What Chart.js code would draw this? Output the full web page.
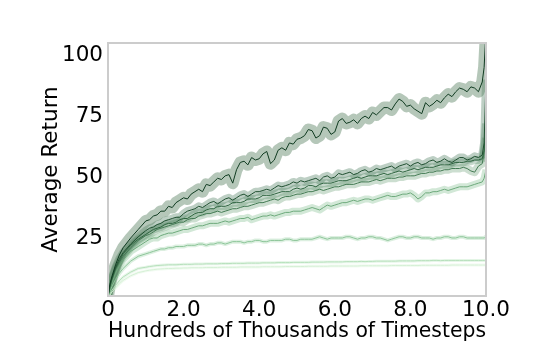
<!DOCTYPE html>
<html>
<head>
<meta charset="utf-8">
<script src="https://cdn.jsdelivr.net/npm/chart.js@4.4.1/dist/chart.umd.min.js"></script>
<style>
  html, body { margin: 0; padding: 0; background: #fff; }
</style>
</head>
<body>
<canvas id="returnChart" width="540" height="360"></canvas>
<script>
// x positions (hundreds of thousands of timesteps)
const timesteps = [0, 0.05, 0.1, 0.2, 0.3, 0.4, 0.6, 0.8,
  1.0, 1.1, 1.2, 1.3, 1.4, 1.5, 1.6, 1.7, 1.8, 1.9,
  2.0, 2.1, 2.2, 2.3, 2.4, 2.5, 2.6, 2.7, 2.8, 2.9,
  3.0, 3.1, 3.2, 3.3, 3.4, 3.5, 3.6, 3.7, 3.8, 3.9,
  4.0, 4.1, 4.2, 4.3, 4.4, 4.5, 4.6, 4.7, 4.8, 4.9,
  5.0, 5.1, 5.2, 5.3, 5.4, 5.5, 5.6, 5.7, 5.8, 5.9,
  6.0, 6.1, 6.2, 6.3, 6.4, 6.5, 6.6, 6.7, 6.8, 6.9,
  7.0, 7.1, 7.2, 7.3, 7.4, 7.5, 7.6, 7.7, 7.8, 7.9,
  8.0, 8.1, 8.2, 8.3, 8.4, 8.5, 8.6, 8.7, 8.8, 8.9,
  9.0, 9.1, 9.2, 9.3, 9.4, 9.5, 9.6, 9.7, 9.8, 9.9,
  9.95, 10];

// average return of each run
const topRun = [1, 6, 9, 14, 18, 21, 25, 28.5,
  32, 32.5, 34, 34.5, 36, 36, 38, 37.5, 39.5, 40.5,
  41.5, 41, 43, 44, 45, 44, 47, 46.5, 48, 49.5,
  49, 50.5, 51, 47.5, 53, 56, 56.5, 55, 58, 57,
  57.5, 59.5, 60.5, 55.5, 57, 61, 62, 61, 64, 63.5,
  65.5, 66, 67, 69.5, 69, 66, 67, 70.5, 70, 67.5,
  68.5, 73, 74, 72, 72.5, 73.5, 72, 74, 75, 74,
  76.5, 75.5, 77, 78.5, 78.5, 77.5, 80, 82, 81, 79,
  79.5, 78, 77, 76, 80.5, 79, 80, 81.5, 80.5, 82.5,
  84, 83, 85, 86.5, 86, 85, 87, 86.5, 85, 89,
  95, 110];
const clusterA = [1, 5.5, 8.5, 13, 16.5, 19, 22.5, 25.5,
  28, 29, 29.5, 30.5, 31, 32, 32.5, 33, 33.5, 33.5,
  35, 36, 36.5, 37, 38, 37.5, 38.5, 39.5, 40, 39,
  40, 41, 41.5, 40.5, 41.5, 42.5, 43, 42, 43, 44,
  44, 44.5, 45, 44.5, 45.5, 46.5, 46, 46.5, 47, 48,
  47.5, 48.5, 48, 48.5, 49, 49.5, 48.5, 50, 50.5, 49.5,
  50, 51.5, 51, 51.5, 52, 51, 51.5, 52.5, 53, 52,
  52.5, 53.5, 53, 53.5, 54, 54.5, 53.5, 54.5, 55, 55.5,
  54.5, 55.5, 56, 55, 55.5, 56.5, 57, 56, 56.5, 57.5,
  56.5, 56, 57, 58, 58, 57, 57.5, 58.5, 58, 59,
  64, 90];
const clusterB = [1, 5, 8, 12.5, 15.5, 18.5, 22, 24.5,
  26.5, 27.5, 28.5, 29, 29.5, 30.5, 31, 31, 31.5, 32.5,
  33, 33, 34, 35, 35.5, 35.5, 36.5, 37, 37, 38,
  38, 38, 38.5, 39.5, 39.5, 39.5, 40, 41, 41, 41,
  41.5, 42.5, 42.5, 42.5, 43, 43.5, 44, 44, 44, 45,
  45.5, 45, 45.5, 46.5, 46.5, 46, 47, 47.5, 47.5, 47.5,
  48, 48.5, 48.5, 48.5, 49, 49.5, 50, 49.5, 50, 50.5,
  50.5, 50.5, 51, 51.5, 51, 51.5, 52, 52.5, 52, 52.5,
  53, 53.5, 53, 53.5, 54, 54, 54, 54.5, 55, 55,
  55, 55.5, 56, 56, 56, 56.5, 56.5, 57, 57, 57.5,
  61, 72];
const clusterC = [0.9, 4.5, 7.5, 12, 15, 17.5, 21, 24,
  26, 26.5, 27.5, 28.5, 29, 29.5, 30, 30.5, 31, 31.5,
  31.5, 32.5, 33, 33, 34, 34.5, 35, 35, 35.5, 36,
  35.5, 36, 36.5, 37, 37, 37.5, 38, 38, 38.5, 39,
  39.5, 39.5, 40, 40.5, 41, 40.5, 41.5, 42, 42, 42.5,
  43, 43, 43.5, 44, 44, 44.5, 45, 44.5, 45, 45.5,
  46, 46, 46.5, 47, 47, 47, 47.5, 48, 48, 48,
  48.5, 49, 48.5, 49, 49.5, 49.5, 49.5, 50, 50, 50.5,
  50.5, 50.5, 51, 51.5, 51.5, 52, 52, 52.5, 52.5, 53,
  53, 53.5, 53.5, 53.5, 54, 53.5, 52.5, 52, 54.5, 55.5,
  60, 66];
const midRun = [0.8, 4, 6.5, 10.5, 13.5, 16, 19.5, 21.5,
  23.5, 24.5, 25, 25, 26, 26.5, 27, 27, 27.5, 28,
  28.5, 28.5, 29, 29.5, 30, 30, 30.5, 31, 31, 31,
  31.5, 32, 31.5, 32, 32.5, 33, 33, 33.5, 32.5, 33,
  33.5, 34, 34, 34.5, 34, 34.5, 35, 35.5, 35.5, 36,
  36, 36, 36.5, 37, 37.5, 37, 36.5, 37.5, 38.5, 38,
  38.5, 39, 39.5, 39.5, 40, 40.5, 40, 40.5, 41, 41,
  40.5, 41, 41.5, 42, 42.5, 42, 42, 42.5, 43, 43,
  43.5, 42.5, 41, 42, 43.5, 43.5, 44, 44, 44.5, 45,
  44.5, 45, 45.5, 46, 46, 46, 46.5, 47, 47.5, 48,
  49.5, 53];
const lowRun = [0.7, 3, 5, 8, 10.5, 12.5, 15.5, 17.5,
  18.5, 19, 19.5, 20, 20.5, 20.5, 21, 21, 21.5, 21.5,
  21.5, 22, 22, 22, 22.5, 22.5, 22, 22.5, 22.5, 23,
  23, 22.5, 23, 23.5, 23.5, 23.5, 23, 23.5, 23.5, 24,
  24, 23.5, 23.5, 24, 24, 24, 24, 24.5, 24.5, 24,
  24, 24.5, 24.5, 24.5, 24.5, 25, 25.5, 25, 24.5, 25,
  25, 25, 25, 25.5, 25.5, 25, 24.5, 25, 25, 25.5,
  25.5, 25, 25, 24.5, 24, 24.5, 25, 25.5, 25.5, 25,
  25, 25.5, 25.5, 25, 25, 25, 24.5, 25, 25, 25.5,
  25.5, 25, 25, 25.5, 25.5, 25, 25, 25, 25, 25,
  25, 25.5];
const lowerRun = [0.5, 2, 3.5, 5.5, 7.5, 9, 11, 12.5,
  13, 13.3, 13.5, 13.7, 13.8, 13.9, 14, 14, 14, 14.1,
  14.2, 14.2, 14.2, 14.3, 14.3, 14.3, 14.4, 14.4, 14.4, 14.4,
  14.5, 14.5, 14.5, 14.6, 14.6, 14.6, 14.6, 14.7, 14.7, 14.7,
  14.7, 14.8, 14.8, 14.8, 14.8, 14.9, 14.9, 14.9, 14.9, 15,
  15, 15, 15, 15, 15.1, 15.1, 15.1, 15.1, 15.2, 15.2,
  15.2, 15.2, 15.2, 15.3, 15.3, 15.3, 15.3, 15.4, 15.3, 15.4,
  15.4, 15.5, 15.5, 15.5, 15.5, 15.5, 15.5, 15.6, 15.6, 15.6,
  15.6, 15.6, 15.7, 15.7, 15.7, 15.7, 15.8, 15.8, 15.7, 15.8,
  15.8, 15.8, 15.8, 15.8, 15.8, 15.8, 15.8, 15.8, 15.8, 15.8,
  15.8, 15.8];
const lowestRun = [0.4, 1.5, 2.8, 4.5, 6.2, 7.6, 9.5, 10.8,
  11.5, 11.8, 12, 12.2, 12.3, 12.4, 12.5, 12.5, 12.6, 12.6,
  12.7, 12.7, 12.8, 12.8, 12.8, 12.8, 12.9, 12.9, 12.9, 12.9,
  13, 13, 13, 13, 13, 13.1, 13.1, 13.1, 13.1, 13.1,
  13.1, 13.2, 13.2, 13.2, 13.2, 13.2, 13.2, 13.3, 13.3, 13.3,
  13.3, 13.3, 13.3, 13.4, 13.4, 13.4, 13.4, 13.4, 13.4, 13.5,
  13.5, 13.5, 13.5, 13.5, 13.5, 13.5, 13.5, 13.6, 13.6, 13.6,
  13.6, 13.6, 13.6, 13.6, 13.6, 13.7, 13.7, 13.7, 13.7, 13.7,
  13.7, 13.7, 13.7, 13.8, 13.8, 13.8, 13.8, 13.8, 13.8, 13.8,
  13.8, 13.9, 13.9, 13.9, 13.9, 13.9, 13.9, 13.9, 13.9, 13.9,
  13.9, 13.9];

const xTicks = [0, 2, 4, 6, 8, 10];
const yTicks = [25, 50, 75, 100];

// line colour, shaded band colour, band width in px
const runs = [
  { values: topRun,    line: '#0f3a20', band: 'rgba(90,130,100,0.45)',  bandWidth: 12 },
  { values: clusterA,  line: '#1f4f30', band: 'rgba(55,110,75,0.33)',   bandWidth: 8 },
  { values: clusterB,  line: '#2f6540', band: 'rgba(65,125,85,0.30)',   bandWidth: 8 },
  { values: clusterC,  line: '#437a53', band: 'rgba(85,145,100,0.30)',  bandWidth: 8 },
  { values: midRun,    line: '#6da97b', band: 'rgba(125,190,140,0.35)', bandWidth: 7 },
  { values: lowRun,    line: '#8cc598', band: 'rgba(155,210,165,0.35)', bandWidth: 4 },
  { values: lowerRun,  line: '#b6e0bb', band: 'rgba(195,232,200,0.40)', bandWidth: 3 },
  { values: lowestRun, line: '#d6f0d6', band: 'rgba(220,244,220,0.40)', bandWidth: 3 }
];

const toPoints = arr => timesteps.map((t, i) => ({ x: t, y: arr[i] }));

const datasets = [];
runs.forEach(r => {
  datasets.push({
    data: toPoints(r.values), borderColor: r.band, borderWidth: r.bandWidth,
    pointRadius: 0, tension: 0, borderJoinStyle: 'round', order: 2, clip: 0
  });
  datasets.push({
    data: toPoints(r.values), borderColor: r.line, borderWidth: 1,
    pointRadius: 0, tension: 0, order: 1, clip: 0
  });
});

// light grey box around the plot
const frame = {
  id: 'frame',
  afterDraw(chart) {
    const a = chart.chartArea, c = chart.ctx;
    c.save();
    c.strokeStyle = '#cccccc';
    c.lineWidth = 2;
    c.strokeRect(a.left, a.top, a.right - a.left, a.bottom - a.top);
    c.restore();
  }
};

const font = { family: 'DejaVu Sans', size: 21.5 };

new Chart(document.getElementById('returnChart'), {
  type: 'line',
  data: { datasets: datasets },
  plugins: [frame],
  options: {
    responsive: false,
    animation: false,
    layout: { padding: { left: 36, right: 54, top: 43, bottom: 16 } },
    plugins: { legend: { display: false }, tooltip: { enabled: false } },
    scales: {
      x: {
        type: 'linear', min: 0, max: 10,
        grid: { display: false, drawTicks: false },
        border: { display: false },
        afterBuildTicks: s => { s.ticks = xTicks.map(v => ({ value: v })); },
        afterFit: s => { s.height = 48; },
        ticks: {
          color: '#000', font: font, padding: 2, maxRotation: 0,
          callback: v => v === 0 ? '0' : v.toFixed(1)
        },
        title: { display: true, text: 'Hundreds of Thousands of Timesteps', color: '#000', font: font, padding: 0 }
      },
      y: {
        min: 1.2, max: 105,
        grid: { display: false, drawTicks: false },
        border: { display: false },
        afterBuildTicks: s => { s.ticks = yTicks.map(v => ({ value: v })); },
        afterFit: s => { s.width = 72; },
        ticks: { color: '#000', font: font, padding: 5 },
        title: { display: true, text: 'Average Return', color: '#000', font: font, padding: 3 }
      }
    }
  }
});
</script>
</body>
</html>
